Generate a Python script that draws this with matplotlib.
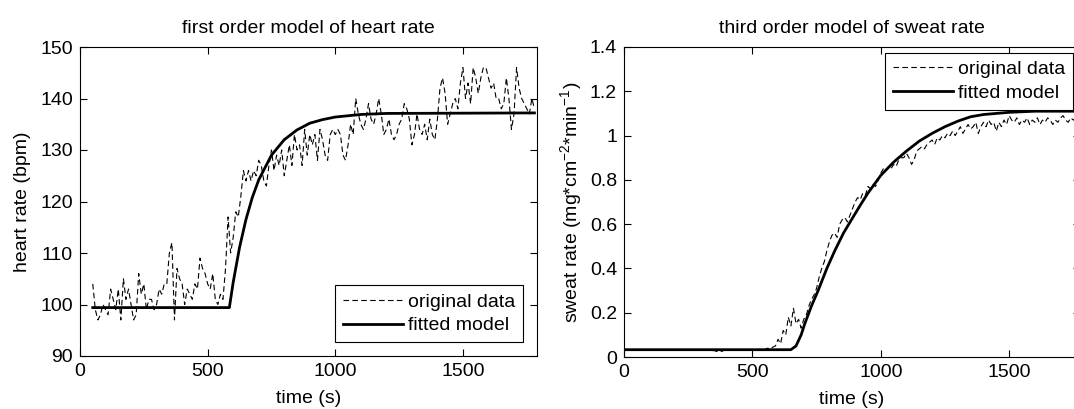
import numpy as np
import matplotlib
matplotlib.use("Agg")
import matplotlib.pyplot as plt
from matplotlib.ticker import FormatStrFormatter

plt.rcParams["font.family"] = ["Liberation Sans", "DejaVu Sans"]
plt.rcParams["mathtext.fontset"] = "custom"
plt.rcParams["mathtext.rm"] = "Liberation Sans"
plt.rcParams["mathtext.default"] = "regular"

# heart rate, sampled every 10 s from 50 s
hr_time = np.arange(50, 1790, 10)
hr_data = [
    104, 99, 97, 98, 100, 99, 98, 103, 101, 99,
    103, 97, 105, 101, 103, 100, 97, 98, 106, 102,
    104, 99, 101, 101, 99, 100, 103, 102, 104, 104,
    110, 112, 97, 107, 105, 104, 100, 103, 102, 101,
    104, 103, 109, 107, 106, 104, 103, 106, 101, 100,
    102, 101, 107, 117, 110, 113, 118, 117, 121, 126,
    124, 126, 124, 126, 125, 128, 127, 124, 123, 127,
    130, 126, 129, 127, 130, 125, 128, 131, 127, 133,
    130, 131, 127, 134, 129, 133, 131, 133, 128, 134,
    132, 129, 128, 133, 134, 133, 134, 133, 129, 128,
    131, 135, 133, 140, 137, 135, 134, 136, 139, 136,
    135, 137, 140, 137, 133, 134, 136, 133, 132, 133,
    135, 136, 139, 138, 136, 131, 133, 137, 134, 133,
    135, 132, 136, 133, 132, 136, 142, 144, 141, 135,
    137, 139, 140, 138, 143, 146, 140, 143, 139, 146,
    144, 141, 144, 146, 146, 144, 142, 143, 140, 140,
    138, 139, 144, 140, 134, 137, 146, 142, 140, 139,
    138, 137, 140, 138,
]
hr_fit_time = [50, 585, 600, 625, 650, 675, 700, 750, 800, 850, 900, 950, 1000, 1100, 1200, 1780]
hr_fit = [99.4, 99.4, 104.3, 111.1, 116.5, 120.8, 124.2, 129.0, 132.0, 133.9,
          135.2, 135.9, 136.4, 136.9, 137.1, 137.2]

# sweat rate, sampled every 10 s from 0 s
sw_time = np.arange(0, 1780, 10)
sw_data = [
    0.03, 0.03, 0.03, 0.03, 0.03, 0.03, 0.03, 0.03, 0.03, 0.03,
    0.03, 0.03, 0.03, 0.03, 0.03, 0.03, 0.03, 0.03, 0.03, 0.03,
    0.03, 0.03, 0.03, 0.03, 0.03, 0.03, 0.03, 0.03, 0.03, 0.03,
    0.03, 0.03, 0.03, 0.03, 0.025, 0.03, 0.025, 0.03, 0.025, 0.03,
    0.03, 0.03, 0.03, 0.03, 0.03, 0.03, 0.03, 0.03, 0.03, 0.03,
    0.03, 0.035, 0.03, 0.035, 0.03,
    0.035, 0.04, 0.035, 0.045, 0.05,
    0.08, 0.06, 0.12, 0.10, 0.18, 0.14, 0.22, 0.15, 0.17, 0.13,
    0.17, 0.19, 0.23, 0.26, 0.28, 0.31, 0.36, 0.40, 0.43, 0.48,
    0.52, 0.55, 0.56, 0.54, 0.60, 0.62, 0.63, 0.61, 0.64, 0.67,
    0.70, 0.72, 0.71, 0.74, 0.73, 0.77, 0.76, 0.78, 0.77, 0.80,
    0.83, 0.85, 0.84, 0.86, 0.85, 0.87, 0.86, 0.89, 0.90, 0.90,
    0.92, 0.90, 0.87, 0.89, 0.93, 0.94, 0.95, 0.94, 0.96, 0.97,
    0.98, 0.96, 0.99, 0.98, 1.00, 0.99, 1.01, 1.00, 1.02, 1.00,
    1.02, 1.04, 1.01, 1.03, 1.05, 1.03, 1.04, 1.06, 1.01, 1.04,
    1.06, 1.04, 1.07, 1.05, 1.06, 1.02, 1.06, 1.04, 1.07, 1.05,
    1.09, 1.07, 1.06, 1.08, 1.05, 1.07, 1.06, 1.08, 1.05, 1.07,
    1.06, 1.08, 1.05, 1.07, 1.06, 1.08, 1.07, 1.05, 1.07, 1.06,
    1.08, 1.09, 1.07, 1.06, 1.08, 1.07, 1.08, 1.06,
]
sw_fit_time = [0, 650, 670, 690, 704, 730, 756, 790, 821, 855, 886, 920, 950, 1000,
               1050, 1100, 1150, 1200, 1250, 1300, 1350, 1400, 1500, 1600, 1770]
sw_fit = [0.033, 0.033, 0.05, 0.1, 0.15, 0.23, 0.30, 0.40, 0.48, 0.56, 0.62, 0.685,
          0.74, 0.82, 0.88, 0.93, 0.975, 1.01, 1.04, 1.065, 1.085, 1.095, 1.105, 1.11, 1.11]

FS = 14
W, H = 1074, 409


def _style(ax):
    ax.tick_params(direction="in", length=5, top=True, right=True, labelsize=FS, pad=5)
    for s in ax.spines.values():
        s.set_linewidth(0.8)
    ax.xaxis.set_major_formatter(FormatStrFormatter("%g"))
    ax.yaxis.set_major_formatter(FormatStrFormatter("%g"))


def _legend(ax, loc, anchor):
    leg = ax.legend(loc=loc, bbox_to_anchor=anchor, borderaxespad=0, fontsize=FS,
                    fancybox=False, framealpha=1, edgecolor="black",
                    handlelength=3.1, handletextpad=0.25, labelspacing=0.3,
                    borderpad=0.4)
    leg.get_frame().set_linewidth(0.8)


fig = plt.figure(figsize=(W / 100, H / 100), dpi=100)

ax1 = fig.add_axes([80 / W, 53 / H, 457 / W, 309 / H])
ax1.plot(hr_time, hr_data, color="black", lw=0.8, ls=(0, (5, 3)), label="original data")
ax1.plot(hr_fit_time, hr_fit, color="black", lw=2, label="fitted model")
ax1.set_xlim(0, 1790)
ax1.set_ylim(90, 150)
ax1.set_xticks([0, 500, 1000, 1500])
ax1.set_yticks(range(90, 151, 10))
ax1.set_title("first order model of heart rate", fontsize=FS, pad=10)
ax1.set_xlabel("time (s)", fontsize=FS, labelpad=7)
ax1.set_ylabel("heart rate (bpm)", fontsize=FS, labelpad=7)
_style(ax1)
_legend(ax1, "lower right", (0.969, 0.045))

ax2 = fig.add_axes([624 / W, 52 / H, 456 / W, 310 / H])
ax2.plot(sw_time, sw_data, color="black", lw=0.8, ls=(0, (5, 3)), label="original data")
ax2.plot(sw_fit_time, sw_fit, color="black", lw=2, label="fitted model")
ax2.set_xlim(0, 1776)
ax2.set_ylim(0, 1.4)
ax2.set_xticks([0, 500, 1000, 1500])
ax2.set_yticks([0, 0.2, 0.4, 0.6, 0.8, 1.0, 1.2, 1.4])
ax2.set_title("third order model of sweat rate", fontsize=FS, pad=10)
ax2.set_xlabel("time (s)", fontsize=FS, labelpad=7)
ax2.set_ylabel("sweat rate (mg*cm$^{-2}$*min$^{-1}$)", fontsize=FS, labelpad=4)
_style(ax2)
_legend(ax2, "upper right", (0.985, 0.981))

fig.savefig("out.png", dpi=100)
